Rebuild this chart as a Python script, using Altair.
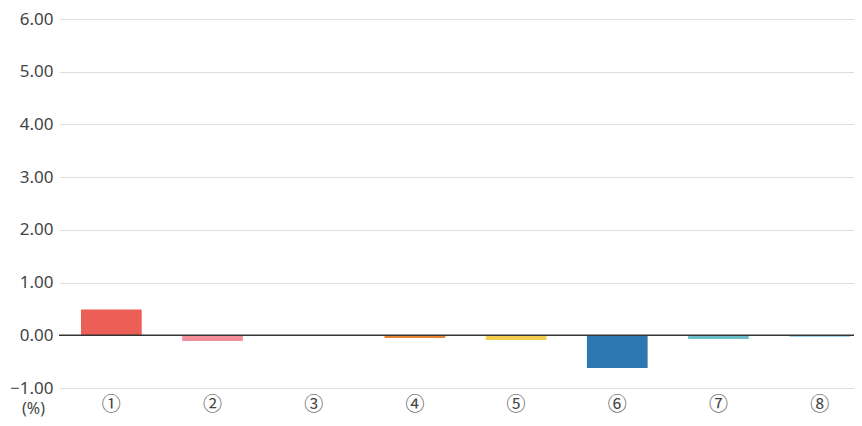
import altair as alt
import pandas as pd

categories = ["①", "②", "③", "④", "⑤", "⑥", "⑦", "⑧"]
values = [0.49, -0.11, 0.0, -0.05, -0.09, -0.62, -0.07, -0.03]
colors = ["#EC5F56", "#F3909B", "#9E9E9E", "#E8842F", "#F5D04F", "#2C76B1", "#69BFC9", "#7EC6E6"]
y_ticks = [-1, 0, 1, 2, 3, 4, 5, 6]

df = pd.DataFrame({"cat": categories, "val": values, "col": colors})

FONT = "Noto Sans"

bars = alt.Chart(df).mark_bar().encode(
    x=alt.X("cat:N", sort=categories,
            scale=alt.Scale(paddingInner=0.4, paddingOuter=0.2175, range=[0, 813]),
            axis=alt.Axis(title=None, labelAngle=0, ticks=False, domain=False,
                          labelFontSize=19, labelColor="#444", labelPadding=7,
                          labelFont="Noto Sans CJK JP", grid=False)),
    y=alt.Y("val:Q",
            scale=alt.Scale(domain=[-1, 6], nice=False),
            axis=alt.Axis(values=y_ticks, format=".2f", title="(%)",
                          titleAngle=0, titleX=-26, titleY=389, titleAlign="center",
                          titleBaseline="middle", titleFontSize=16, titleFontWeight="normal",
                          titleColor="#444", titleFont=FONT,
                          labelFontSize=17, labelColor="#444", labelFont=FONT,
                          labelPadding=6, ticks=False, domain=False,
                          gridColor="#dddddd", gridWidth=1)),
    color=alt.Color("col:N", scale=None, legend=None),
)

zero = alt.Chart(pd.DataFrame({"z": [0]})).mark_rule(color="#333333", strokeWidth=1.5).encode(
    y="z:Q",
    x=alt.value(0),
    x2=alt.value(795),
)

chart = alt.layer(bars, zero).properties(
    width=795,
    height=369,
    autosize=alt.AutoSizeParams(type="none"),
    padding={"left": 51, "top": 11, "right": 0, "bottom": 30},
).configure_view(stroke=None)

chart.save("out.html", embed_options={"renderer": "svg", "actions": False})
